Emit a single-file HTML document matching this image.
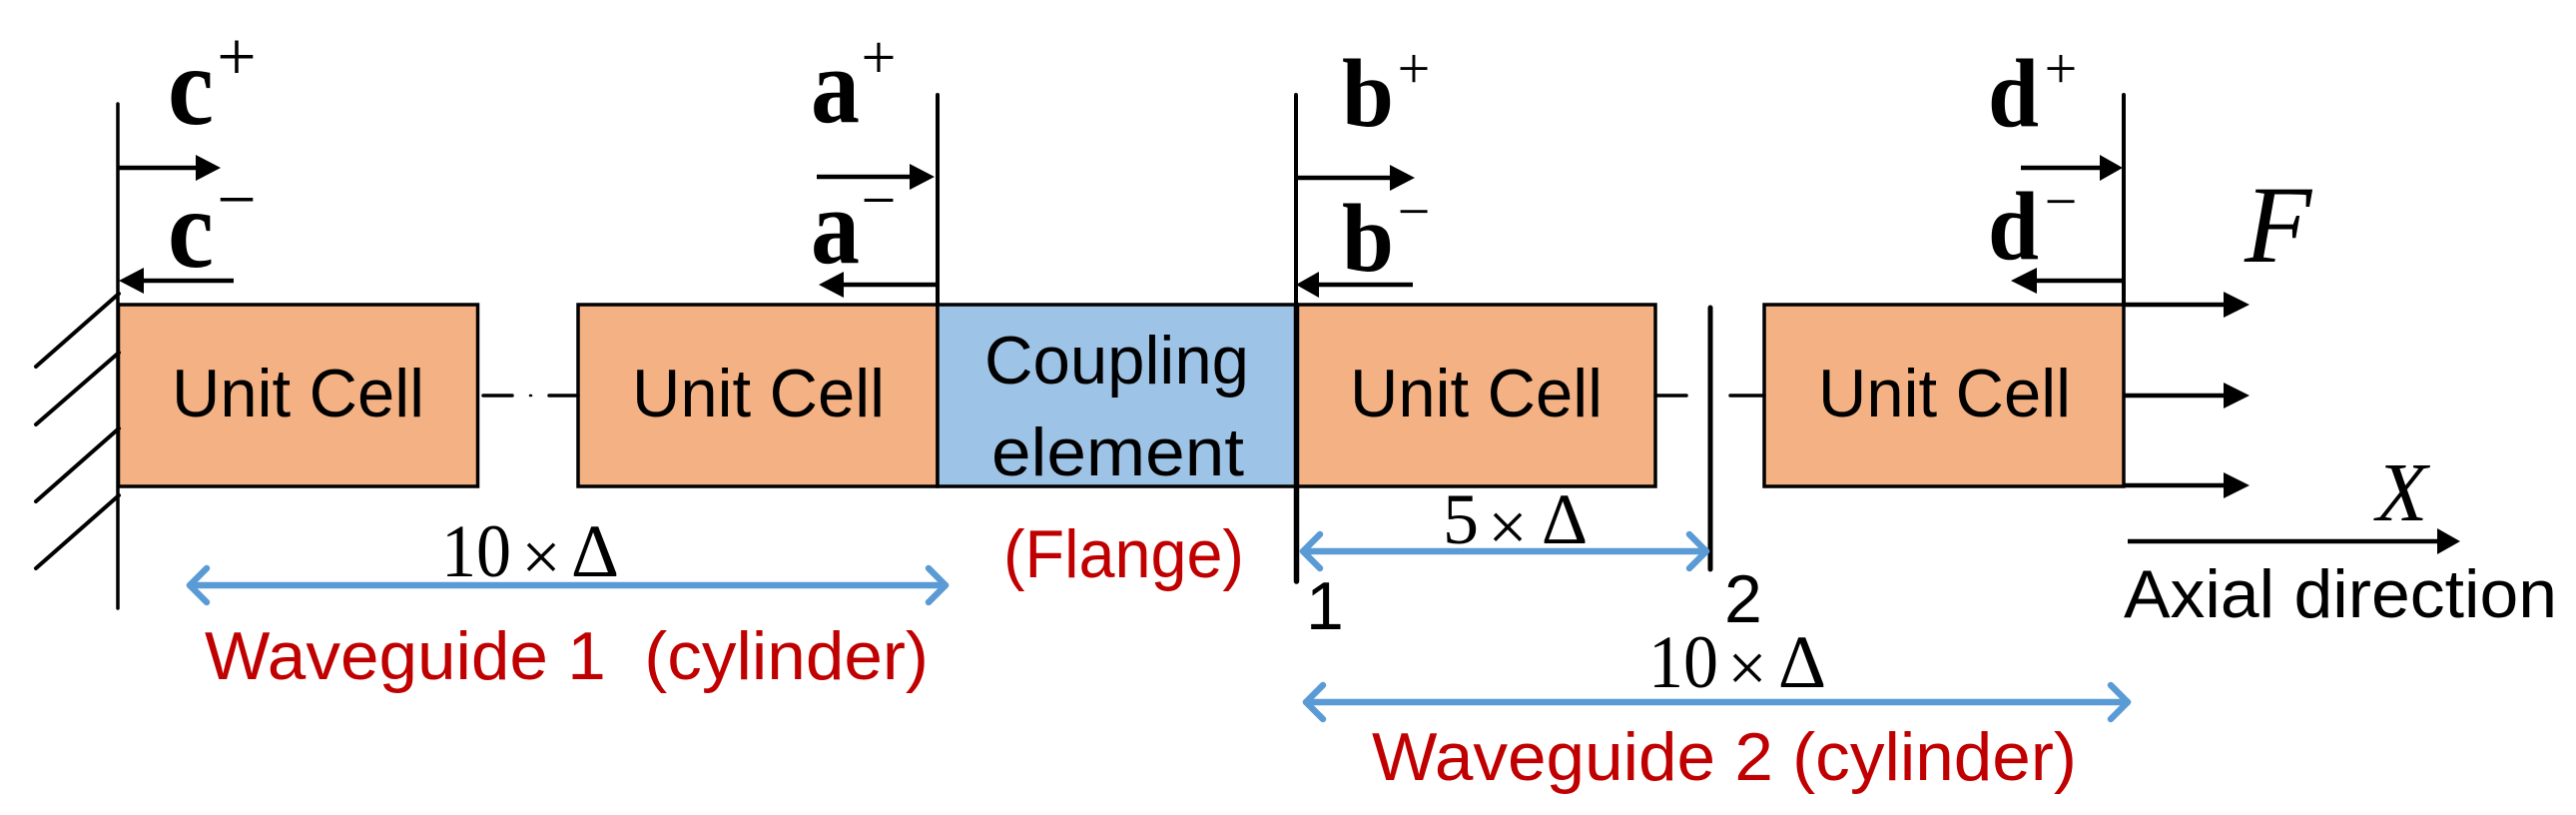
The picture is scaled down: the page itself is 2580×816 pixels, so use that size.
<!DOCTYPE html>
<html>
<head>
<meta charset="utf-8">
<style>
html,body{margin:0;padding:0;background:#fff;width:2580px;height:816px;overflow:hidden}
svg{display:block}
.s{font-family:"Liberation Sans",sans-serif;font-size:68px;fill:#000}
.r{font-family:"Liberation Sans",sans-serif;font-size:68px;fill:#C00000}
.t{font-family:"Liberation Serif",serif;fill:#000}
.b{font-family:"Liberation Serif",serif;font-weight:bold;fill:#000}
.i{font-family:"Liberation Serif",serif;font-style:italic;fill:#000}
.p{font-family:"Liberation Serif",serif;fill:#000;text-anchor:middle}
</style>
</head>
<body>
<svg width="2580" height="816" viewBox="0 0 2580 816" xmlns="http://www.w3.org/2000/svg">
<rect width="2580" height="816" fill="#fff"/>

<!-- boxes -->
<g stroke="#000" stroke-width="3.5">
<rect x="118.5" y="305" width="360" height="182" fill="#F4B183"/>
<rect x="579" y="305" width="360" height="182" fill="#F4B183"/>
<rect x="939" y="305" width="359" height="182" fill="#9DC3E6"/>
<rect x="1298" y="305" width="360" height="182" fill="#F4B183"/>
<rect x="1767" y="305" width="360" height="182" fill="#F4B183"/>
</g>

<!-- vertical lines -->
<g stroke="#000" stroke-linecap="round" fill="none">
<line x1="118" y1="104" x2="118" y2="609" stroke-width="3.5"/>
<line x1="939" y1="95" x2="939" y2="305" stroke-width="4"/>
<line x1="1298" y1="95" x2="1298" y2="305" stroke-width="4"/>
<line x1="1298.500" y1="305" x2="1298.500" y2="582" stroke-width="5.500"/>
<line x1="1713" y1="308" x2="1713" y2="570" stroke-width="5"/>
<line x1="2127" y1="95" x2="2127" y2="305" stroke-width="4"/>
<!-- hatch -->
<line x1="36" y1="367" x2="119" y2="294" stroke-width="4"/>
<line x1="36" y1="425" x2="119" y2="353" stroke-width="4"/>
<line x1="36" y1="502" x2="119" y2="429" stroke-width="4"/>
<line x1="36" y1="569" x2="119" y2="496" stroke-width="4"/>
<!-- dashes -->
<line x1="484" y1="396" x2="513" y2="396" stroke-width="3.500"/>
<line x1="531" y1="396" x2="532" y2="396" stroke-width="2.500"/>
<line x1="550" y1="396" x2="579" y2="396" stroke-width="3.500"/>
<line x1="1658" y1="396" x2="1689" y2="396" stroke-width="3.500"/>
<line x1="1733" y1="396" x2="1767" y2="396" stroke-width="3.500"/>
</g>

<!-- black arrows -->
<g stroke="#000" stroke-width="4.5" fill="none">
<line x1="118" y1="168" x2="198" y2="168"/>
<line x1="234" y1="281" x2="142" y2="281"/>
<line x1="818" y1="177" x2="913" y2="177"/>
<line x1="939" y1="285" x2="843" y2="285"/>
<line x1="1298" y1="178" x2="1394" y2="178"/>
<line x1="1415" y1="285" x2="1319" y2="285"/>
<line x1="2024" y1="168" x2="2105" y2="168"/>
<line x1="2127" y1="281" x2="2038" y2="281"/>
<line x1="2127" y1="305" x2="2229" y2="305"/>
<line x1="2127" y1="396" x2="2229" y2="396"/>
<line x1="2127" y1="486" x2="2229" y2="486"/>
<line x1="2131" y1="542" x2="2443" y2="542"/>
</g>
<g fill="#000">
<polygon points="196,155 221,168 196,181"/>
<polygon points="144,268 119,281 144,294"/>
<polygon points="911,164 936,177 911,190"/>
<polygon points="845,272 820,285 845,298"/>
<polygon points="1392,165 1417,178 1392,191"/>
<polygon points="1321,272 1298,285 1321,298"/>
<polygon points="2103,155 2126,168 2103,181"/>
<polygon points="2040,268 2014,281 2040,294"/>
<polygon points="2227,292 2253,305 2227,318"/>
<polygon points="2227,383 2253,396 2227,409"/>
<polygon points="2227,473 2253,486 2227,499"/>
<polygon points="2441,529 2464,542 2441,555"/>
</g>

<!-- blue arrows -->
<g stroke="#5B9BD5" stroke-width="6.5" fill="none" stroke-linecap="round" stroke-linejoin="round">
<line x1="190" y1="586" x2="947" y2="586"/>
<polyline points="207,569 190,586 207,603"/>
<polyline points="930,569 947,586 930,603"/>
<line x1="1305" y1="552" x2="1709" y2="552"/>
<polyline points="1322,535 1305,552 1322,569"/>
<polyline points="1692,535 1709,552 1692,569"/>
<line x1="1308" y1="703" x2="2131" y2="703"/>
<polyline points="1325,686 1308,703 1325,720"/>
<polyline points="2114,686 2131,703 2114,720"/>
</g>

<!-- sans labels -->
<text class="s" x="172" y="417" textLength="253" lengthAdjust="spacingAndGlyphs">Unit Cell</text>
<text class="s" x="633" y="417" textLength="253" lengthAdjust="spacingAndGlyphs">Unit Cell</text>
<text class="s" x="1352" y="417" textLength="253" lengthAdjust="spacingAndGlyphs">Unit Cell</text>
<text class="s" x="1821" y="417" textLength="253" lengthAdjust="spacingAndGlyphs">Unit Cell</text>
<text class="s" x="986" y="384" textLength="265" lengthAdjust="spacingAndGlyphs">Coupling</text>
<text class="s" x="993" y="476" textLength="253" lengthAdjust="spacingAndGlyphs">element</text>
<text class="s" x="2127" y="618" textLength="434" lengthAdjust="spacingAndGlyphs">Axial direction</text>
<text class="s" x="1308" y="630">1</text>
<text class="s" x="1727" y="623">2</text>

<!-- red labels -->
<text class="r" x="1005" y="578" textLength="241" lengthAdjust="spacingAndGlyphs">(Flange)</text>
<text class="r" xml:space="preserve" x="205" y="680" textLength="725" lengthAdjust="spacingAndGlyphs">Waveguide 1  (cylinder)</text>
<text class="r" x="1374" y="781" textLength="706" lengthAdjust="spacingAndGlyphs">Waveguide 2 (cylinder)</text>

<!-- dimension labels -->
<text class="t" font-size="75" x="442" y="577" textLength="70" lengthAdjust="spacingAndGlyphs">10</text>
<text class="t" font-size="70" x="542" y="581" text-anchor="middle">×</text>
<text class="t" font-size="75" x="596" y="577" text-anchor="middle">Δ</text>

<text class="t" font-size="72" x="1445" y="544">5</text>
<text class="t" font-size="70" x="1510" y="551" text-anchor="middle">×</text>
<text class="t" font-size="72" x="1567" y="544" text-anchor="middle">Δ</text>

<text class="t" font-size="75" x="1651" y="688" textLength="70" lengthAdjust="spacingAndGlyphs">10</text>
<text class="t" font-size="70" x="1750" y="692" text-anchor="middle">×</text>
<text class="t" font-size="75" x="1805" y="688" text-anchor="middle">Δ</text>

<!-- bold wave letters -->
<text class="b" font-size="112" x="168" y="124" textLength="46" lengthAdjust="spacingAndGlyphs">c</text>
<text class="b" font-size="112" x="168" y="267" textLength="46" lengthAdjust="spacingAndGlyphs">c</text>
<text class="b" font-size="108" x="812" y="122" textLength="49" lengthAdjust="spacingAndGlyphs">a</text>
<text class="b" font-size="108" x="812" y="263" textLength="49" lengthAdjust="spacingAndGlyphs">a</text>
<text class="b" font-size="98" x="1344" y="126" textLength="52" lengthAdjust="spacingAndGlyphs">b</text>
<text class="b" font-size="98" x="1344" y="271" textLength="52" lengthAdjust="spacingAndGlyphs">b</text>
<text class="b" font-size="98" x="1991" y="126" textLength="51" lengthAdjust="spacingAndGlyphs">d</text>
<text class="b" font-size="98" x="1991" y="259" textLength="51" lengthAdjust="spacingAndGlyphs">d</text>

<!-- superscripts -->
<text class="p" font-size="70" x="237" y="80">+</text>
<text class="p" font-size="70" x="237" y="223">−</text>
<text class="p" font-size="62" x="880" y="78">+</text>
<text class="p" font-size="62" x="880" y="221">−</text>
<text class="p" font-size="58" x="1416" y="88">+</text>
<text class="p" font-size="58" x="1416" y="231">−</text>
<text class="p" font-size="58" x="2064" y="88">+</text>
<text class="p" font-size="58" x="2064" y="221">−</text>

<!-- italics -->
<text class="i" font-size="110" x="2248" y="262">F</text>
<text class="i" font-size="84" x="2380" y="521">X</text>
</svg>
</body>
</html>
